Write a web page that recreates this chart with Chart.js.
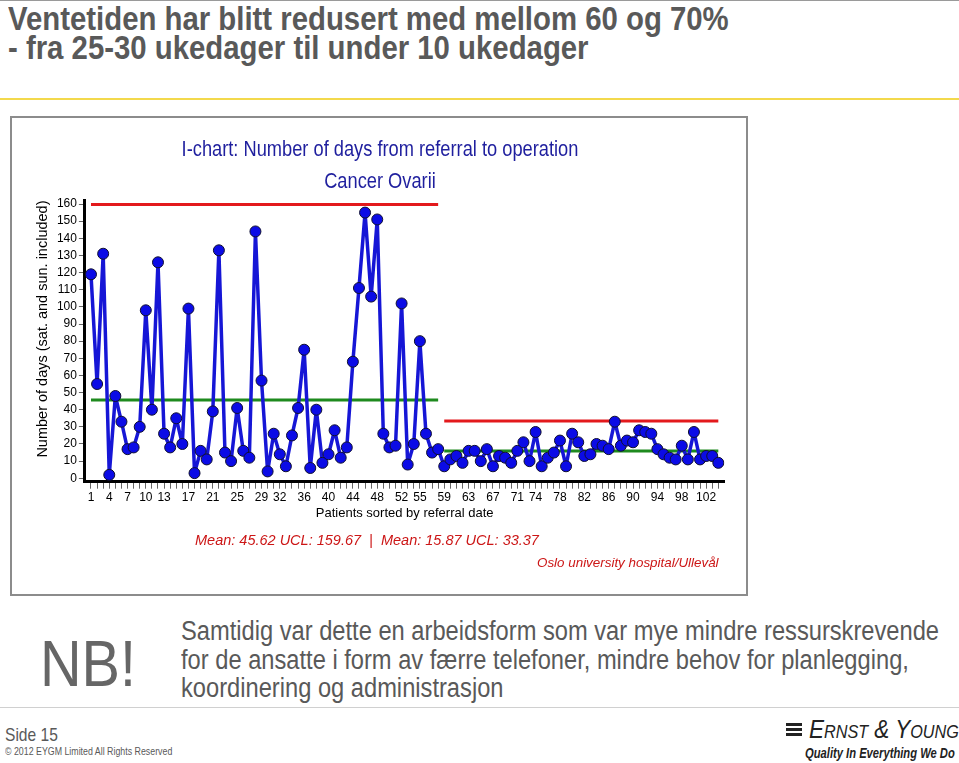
<!DOCTYPE html>
<html>
<head>
<meta charset="utf-8">
<title>I-chart</title>
<script src="https://cdn.jsdelivr.net/npm/chart.js@4.4.1/dist/chart.umd.min.js"></script>
<style>
  body {
    margin: 0;
    width: 959px;
    height: 763px;
    background: #fff;
    position: relative;
    overflow: hidden;
    font-family: "Liberation Sans", Arial, sans-serif;
    color: #595959;
  }
  .abs { position: absolute; white-space: nowrap; transform-origin: left top; }
  #topline { left: 0; top: 0; width: 959px; height: 1px; background: #9a9a9a; }
  #title { left: 8px; top: 4px; font-weight: bold; font-size: 34px; line-height: 29px; transform: scaleX(0.863); }
  #yellow { left: 0; top: 98px; width: 959px; height: 2px; background: #f3d94c; }
  #box { left: 10px; top: 116px; width: 734px; height: 476px; border: 2px solid #8c8c8c; }
  #chart { left: 12px; top: 118px; }
  .ctitle { left: 0; width: 760px; text-align: center; font-size: 22px; line-height: 26px; color: #1f1f9e; transform-origin: 380px 0; transform: scaleX(0.83); }
  #stats { left: 195px; top: 531px; font-style: italic; font-size: 14.5px; line-height: 18px; color: #cc1616; }
  #source { left: 537px; top: 555px; font-style: italic; font-size: 13.4px; line-height: 16px; color: #cc1616; }
  #nb { left: 40px; top: 632px; font-size: 64px; line-height: 64px; color: #666; transform: scaleX(0.9); }
  #note { left: 181px; top: 617px; font-size: 27px; line-height: 28.5px; transform: scaleX(0.877); }
  #footline { left: 0; top: 707px; width: 959px; height: 1px; background: #d0d0d0; }
  #side { left: 5px; top: 725px; font-size: 19px; line-height: 19px; transform: scaleX(0.82); }
  #copy { left: 5px; top: 745px; font-size: 10.5px; line-height: 12px; transform: scaleX(0.84); }
  #ey { left: 809px; top: 716px; font-size: 25px; line-height: 26px; font-style: italic; font-variant: small-caps; color: #222; transform: scaleX(0.9); }
  #quality { left: 805px; top: 745px; font-size: 14px; line-height: 16px; font-style: italic; font-weight: bold; color: #222; transform: scaleX(0.8); }
  .bar { background: #222; height: 3px; width: 16px; }
</style>
</head>
<body>
<div class="abs" id="topline"></div>
<div class="abs" id="title">Ventetiden har blitt redusert med mellom 60 og 70%<br>- fra 25-30 ukedager til under 10 ukedager</div>
<div class="abs" id="yellow"></div>

<div class="abs" id="box"></div>
<canvas class="abs" id="chart" width="734" height="476"></canvas>
<div class="abs ctitle" style="top:136px">I-chart: Number of days from referral to operation</div>
<div class="abs ctitle" style="top:168px">Cancer Ovarii</div>
<div class="abs" id="stats">Mean: 45.62 UCL: 159.67&nbsp; | &nbsp;Mean: 15.87 UCL: 33.37</div>
<div class="abs" id="source">Oslo university hospital/Ullevål</div>

<div class="abs" id="nb">NB!</div>
<div class="abs" id="note">Samtidig var dette en arbeidsform som var mye mindre ressurskrevende<br>for de ansatte i form av færre telefoner, mindre behov for planlegging,<br>koordinering og administrasjon</div>
<div class="abs" id="footline"></div>
<div class="abs" id="side">Side 15</div>
<div class="abs" id="copy">© 2012 EYGM Limited All Rights Reserved</div>
<div class="abs bar" style="left:786px;top:723px"></div>
<div class="abs bar" style="left:786px;top:728px"></div>
<div class="abs bar" style="left:786px;top:733px"></div>
<div class="abs" id="ey">Ernst &amp; Young</div>
<div class="abs" id="quality">Quality In Everything We Do</div>

<script>
// days from referral to operation, one value per patient (1..104)
const days = [
  119, 55, 131, 2, 48, 33, 17, 18, 30, 98,
  40, 126, 26, 18, 35, 20, 99, 3, 16, 11,
  39, 133, 15, 10, 41, 16, 12, 144, 57, 4,
  26, 14, 7, 25, 41, 75, 6, 40, 9, 14,
  28, 12, 18, 68, 111, 155, 106, 151, 26, 18,
  19, 102, 8, 20, 80, 26, 15, 17, 7, 11,
  13, 9, 16, 16, 10, 17, 7, 13, 12, 9,
  16, 21, 10, 27, 7, 12, 15, 22, 7, 26,
  21, 13, 14, 20, 19, 17, 33, 19, 22, 21,
  28, 27, 26, 17, 14, 12, 11, 19, 11, 27,
  11, 13, 13, 9,
];

const xLabels = [1, 4, 7, 10, 13, 17, 21, 25, 29, 32, 36, 40, 44, 48, 52, 55, 59, 63, 67, 71, 74, 78, 82, 86, 90, 94, 98, 102];
const yTicks = [0, 10, 20, 30, 40, 50, 60, 70, 80, 90, 100, 110, 120, 130, 140, 150, 160];

// two phases: before / after the change
const phaseStart = [1, 59];
const phaseEnd = [58, 104];
const phaseMean = [45.62, 15.87];
const phaseUcl = [159.67, 33.37];

const blue = "#1616d6";
const red = "#e3191c";
const green = "#1e8a1e";

const points = days.map((v, i) => ({ x: i + 1, y: v }));
const segment = (i, v) => [
  { x: phaseStart[i], y: v },
  { x: phaseEnd[i], y: v },
];

const limitLine = (label, data, color) => ({
  label,
  data,
  borderColor: color,
  borderWidth: 3,
  pointRadius: 0,
  fill: false,
  order: 2,
});

const ctx = document.getElementById("chart").getContext("2d");

Chart.defaults.font.family = '"Liberation Sans", Arial, sans-serif';

new Chart(ctx, {
  type: "line",
  data: {
    datasets: [
      {
        label: "Days",
        data: points,
        borderColor: blue,
        borderWidth: 3.5,
        borderJoinStyle: "round",
        tension: 0,
        pointRadius: 5.5,
        pointBackgroundColor: "#0b0be6",
        pointBorderColor: "#101030",
        pointBorderWidth: 1,
        order: 0,
      },
      limitLine("UCL 1", segment(0, phaseUcl[0]), red),
      limitLine("Mean 1", segment(0, phaseMean[0]), green),
      limitLine("UCL 2", segment(1, phaseUcl[1]), red),
      limitLine("Mean 2", segment(1, phaseMean[1]), green),
    ],
  },
  options: {
    responsive: false,
    animation: false,
    devicePixelRatio: 1,
    layout: {
      padding: { left: 0, top: 82.6, right: 21.6, bottom: 72.3 },
    },
    plugins: {
      legend: { display: false },
      tooltip: { enabled: false },
    },
    scales: {
      x: {
        type: "linear",
        min: 0,
        max: 105,
        afterBuildTicks: (scale) => {
          scale.ticks = days.map((_, i) => ({ value: i + 1 }));
        },
        afterFit: (scale) => {
          scale.height = 40;
        },
        ticks: {
          autoSkip: false,
          maxRotation: 0,
          padding: 2,
          color: "#000",
          font: { size: 12 },
          callback: (value) => (xLabels.includes(value) ? String(value) : ""),
        },
        grid: { drawOnChartArea: false, tickLength: 7, color: "#666", lineWidth: 1 },
        border: { color: "#000", width: 3 },
        title: {
          display: true,
          text: "Patients sorted by referral date",
          color: "#000",
          font: { size: 13 },
          padding: 0,
        },
      },
      y: {
        min: -2,
        max: 162,
        afterBuildTicks: (scale) => {
          scale.ticks = yTicks.map((v) => ({ value: v }));
        },
        afterFit: (scale) => {
          scale.width = 72.9;
        },
        ticks: { padding: 2, color: "#000", font: { size: 12 } },
        grid: { drawOnChartArea: false, tickLength: 6, color: "#666" },
        border: { color: "#000", width: 3 },
        title: {
          display: true,
          // leading spaces nudge the rotated title upward, as in the original
          text: "      Number of days (sat. and sun. included)",
          color: "#000",
          font: { size: 14.5 },
          padding: { top: 22.3, bottom: 0 },
        },
      },
    },
  },
});
</script>
</body>
</html>
